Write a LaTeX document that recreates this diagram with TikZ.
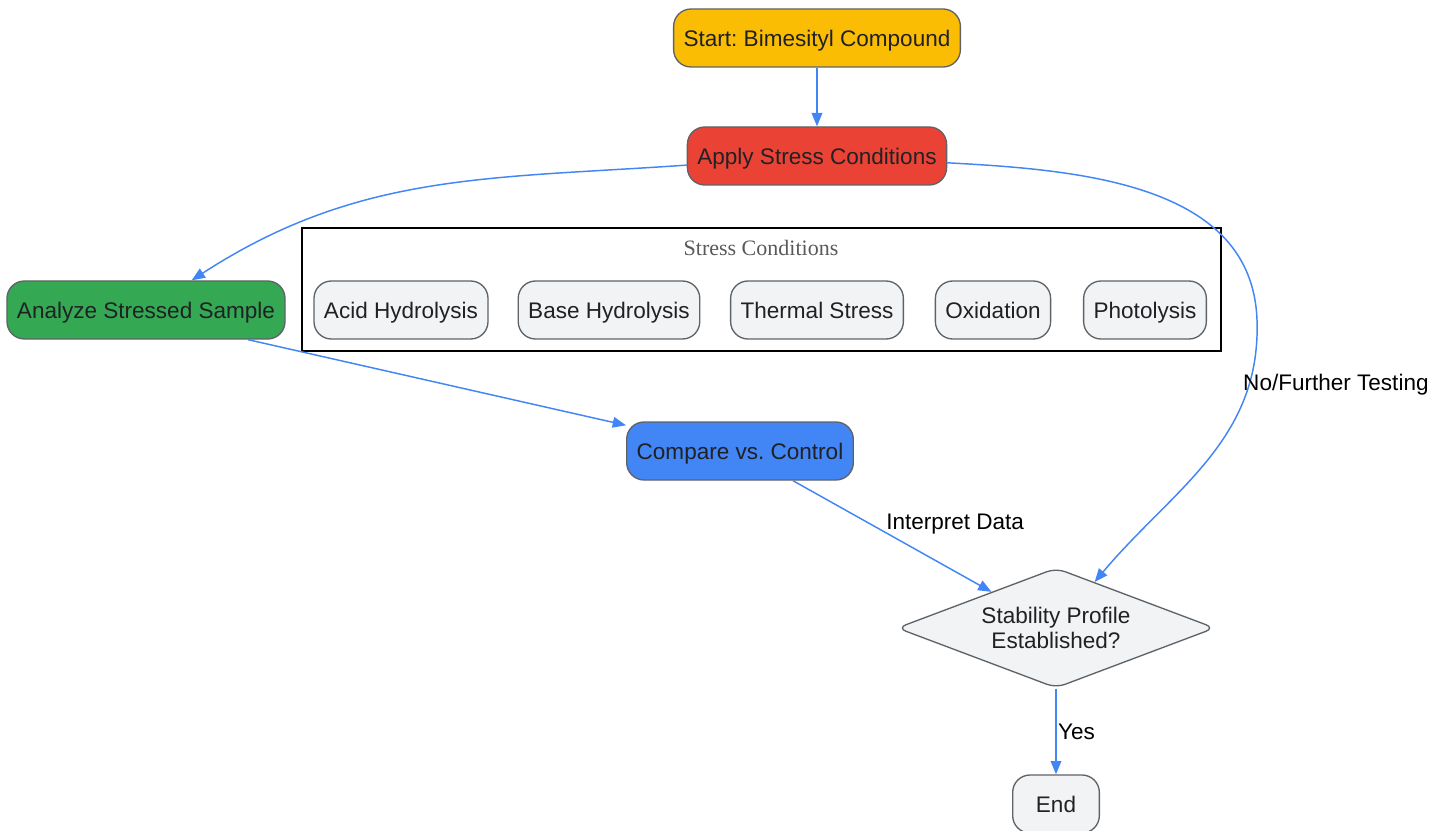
\documentclass[tikz,border=0pt]{standalone}
\usepackage{fontspec}
\setmainfont{Liberation Sans}
\newfontfamily\titlefont{Liberation Serif}
\frenchspacing
\usetikzlibrary{shapes.geometric,arrows.meta}
\definecolor{bordergray}{HTML}{5F6368}
\definecolor{paleg}{HTML}{F1F3F4}
\definecolor{gyellow}{HTML}{FBBC04}
\definecolor{gred}{HTML}{EA4335}
\definecolor{ggreen}{HTML}{34A853}
\definecolor{gblue}{HTML}{4285F4}
\definecolor{inktext}{HTML}{202124}
\tikzset{
  box/.style={draw=bordergray,line width=1pt,rounded corners=13pt,fill=paleg,
    minimum height=43.5pt,inner xsep=7.5pt,text=inktext,text height=16pt,text depth=3pt,
    font=\fontsize{16.9}{20}\selectfont},
  decide/.style={diamond,aspect=2.65,draw=bordergray,line width=1pt,rounded corners=7pt,fill=paleg,
    minimum width=238.5pt,minimum height=90pt,inner sep=0pt,align=center,text=inktext,
    font=\fontsize{16.9}{19}\selectfont},
  flow/.style={draw=gblue,line width=1.1pt,-{Triangle[length=10pt,width=8pt]}},
  lbl/.style={text=black,font=\fontsize{16.9}{20}\selectfont,inner sep=1pt}
}
\begin{document}
\begin{tikzpicture}[x=0.75pt,y=-0.75pt]
\useasboundingbox (0,0) rectangle (1447,831);
% main chain
\node[box,fill=gyellow] (start) at (817,38) {Start: Bimesityl Compound};
\node[box,fill=gred] (stress) at (817,156) {Apply Stress Conditions};
\node[box,fill=ggreen] (analyze) at (146,310) {Analyze Stressed Sample};
\node[box,fill=gblue] (compare) at (740,451) {Compare vs. Control};
\node[decide] (decision) at (1056,628) {Stability Profile\\Established?};
\node[box,minimum width=65pt] (finish) at (1056,804) {End};
% stress conditions group
\node[draw=black,line width=1.3pt,minimum width=689pt,minimum height=92pt,inner sep=0pt] (group) at (761.5,289.5) {};
\node[text=black!65,font=\titlefont\fontsize{16.5}{18}\selectfont] (grouptitle) at (761,248) {Stress Conditions};
\node[box] (acid) at (401,310) {Acid Hydrolysis};
\node[box] (base) at (609,310) {Base Hydrolysis};
\node[box] (thermal) at (817,310) {Thermal Stress};
\node[box] (oxid) at (993,310) {Oxidation};
\node[box] (photo) at (1145,310) {Photolysis};
% connectors
\draw[flow] (start) -- (stress);
\draw[flow] (stress) to[out=184,in=33] (analyze);
\draw[flow] ([xshift=76.5pt]analyze.south) -- (compare);
\draw[flow] (compare) -- node[lbl,anchor=south west,xshift=-6pt] {Interpret Data} (decision);
\coordinate (bend) at (1257,320);
\draw[flow] (stress) to[out=-3,in=92] (bend) to[out=-88,in=50] node[lbl,pos=0.2,anchor=west,xshift=-6pt] {No/Further Testing} (decision);
\draw[flow] (decision) -- node[lbl,anchor=west] {Yes} (finish);
\end{tikzpicture}
\end{document}
